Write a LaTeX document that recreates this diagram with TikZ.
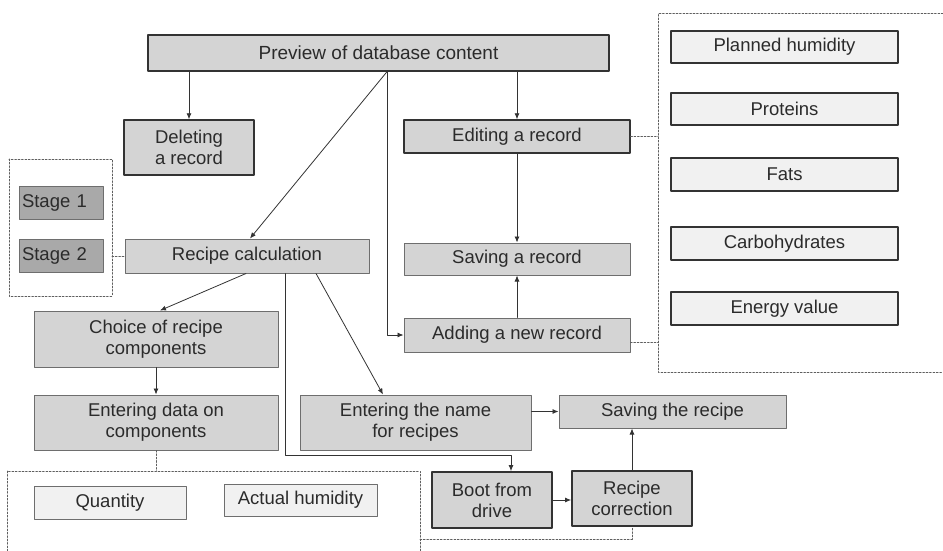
\documentclass[tikz,border=0pt]{standalone}
\usepackage{fontspec}
\setmainfont{Liberation Sans}
\usetikzlibrary{arrows.meta}
\definecolor{boxgray}{HTML}{D4D4D4}
\definecolor{palegray}{HTML}{F1F1F1}
\definecolor{stagegray}{HTML}{A9A9A9}
\definecolor{edgegray}{HTML}{6E6E6E}
\definecolor{darkedge}{HTML}{333333}
\definecolor{inkgray}{HTML}{2B2B2B}
\definecolor{dotgray}{HTML}{5E5E5E}
\begin{document}
\begin{tikzpicture}[x=1pt,y=-1pt,line cap=round,line join=round,
  every node/.style={font=\fontsize{18.5}{21}\selectfont,text=inkgray,inner sep=0pt,align=center},
  sz/.style 2 args={minimum width=#1,minimum height=#2},
  blk/.style={draw=edgegray,fill=boxgray,line width=1pt},
  blkd/.style={draw=darkedge,fill=boxgray,line width=1.4pt},
  lite/.style={draw=darkedge,fill=palegray,line width=1.6pt},
  stagebox/.style={draw=edgegray,fill=stagegray,line width=1pt,text width=78pt,inner xsep=3pt,align=left,minimum height=33pt},
  conn/.style={draw=darkedge,line width=0.8pt,-{Latex[length=6pt,width=5pt]}},
  dot/.style={draw=dotgray,line width=1pt,dash pattern=on 1.6pt off 1.8pt}]
  \useasboundingbox (0,0) rectangle (943,551);

  \node[blkd,sz={461pt}{36pt},font=\fontsize{19}{21}\selectfont] (prev) at (378.5,53) {Preview of database content};
  \node[blkd,sz={130pt}{55pt}] (del) at (189,147.5) {Deleting\\a record};
  \node[blkd,sz={226pt}{33pt}] (edit) at (517,136.5) {Editing a record};
  \node[blk,sz={226pt}{32pt}] (save) at (517,259) {Saving a record};
  \node[blk,sz={226pt}{34pt}] (add) at (517,335) {Adding a new record};
  \node[blk,sz={244pt}{34pt}] (calc) at (247,256) {Recipe calculation};
  \node[stagebox] (st1) at (61,202.5) {Stage 1};
  \node[stagebox] (st2) at (61,256) {Stage 2};
  \node[blk,sz={244pt}{56pt}] (choice) at (156,339) {Choice of recipe\\components};
  \node[blk,sz={244pt}{55pt}] (entdata) at (156,422.5) {Entering data on\\components};
  \node[blk,sz={231pt}{55pt}] (entname) at (415.5,422.5) {Entering the name\\for recipes};
  \node[blk,sz={227pt}{33pt}] (savrec) at (672.5,411.5) {Saving the recipe};
  \node[blkd,line width=1.8pt,sz={120pt}{56pt}] (boot) at (492,500) {Boot from\\drive};
  \node[blkd,line width=1.8pt,sz={120pt}{55pt}] (corr) at (632,498.5) {Recipe\\correction};
  \node[lite,draw=edgegray,line width=1pt,sz={152pt}{33pt}] (qty) at (110,502.5) {Quantity};
  \node[lite,draw=edgegray,line width=1pt,sz={153pt}{32pt}] (hum) at (300.5,500) {Actual humidity};

  \node[lite,sz={227pt}{32pt}] (plan) at (784.5,47) {Planned humidity};
  \node[lite,sz={227pt}{32pt}] (prot) at (784.5,109) {Proteins};
  \node[lite,sz={227pt}{33pt}] (fats) at (784.5,174.5) {Fats};
  \node[lite,sz={227pt}{33pt}] (carb) at (784.5,243.5) {Carbohydrates};
  \node[lite,sz={227pt}{33pt}] (enrg) at (784.5,308.5) {Energy value};

  \coordinate (rgtop) at (658,14);
  \coordinate (sgne) at (112,159);
  \coordinate (bfr) at (7,471);
  \coordinate (bfrr) at (420,539);
  \coordinate (fork) at ([xshift=8.5pt]prev.south);

  \draw[dot] (943,14) -- (rgtop) -- (658,372) -- (943,372);
  \draw[dot] (9,159) rectangle (112,296);
  \draw[dot] (7,551) -- (bfr) -- (420,471) -- (420,551);
  \draw[dot] (edit.east) -- (edit.east -| rgtop);
  \draw[dot] ([yshift=-7pt]add.east) -- ([yshift=-7pt]add.east -| rgtop);
  \draw[dot] (calc.west -| sgne) -- (calc.west);
  \draw[dot] (entdata.south) -- (entdata.south |- bfr);
  \draw[dot] (bfrr) -| (corr.south);

  \draw[conn] (prev.south -| del.north) -- (del.north);
  \draw[conn] (prev.south -| edit.north) -- (edit.north);
  \draw[conn] (fork) -- ([xshift=3pt]calc.north);
  \draw[conn] (fork) |- (add.west);
  \draw[conn] (edit) -- (save);
  \draw[conn] (add) -- (save);
  \draw[conn] ([xshift=-1pt]calc.south) -- ([xshift=4pt]choice.north);
  \draw[conn] (choice) -- (entdata);
  \draw[conn] ([xshift=69pt]calc.south) -- ([xshift=-32.5pt]entname.north);
  \draw[conn] ([xshift=38pt]calc.south) |- ([xshift=19pt,yshift=16pt]boot.north) -- ([xshift=19pt]boot.north);
  \draw[conn] (entname.east |- savrec.west) -- (savrec.west);
  \draw[conn] (boot.east) -- (corr.west |- boot.east);
  \draw[conn] (corr) -- (corr |- savrec.south);
\end{tikzpicture}
\end{document}
